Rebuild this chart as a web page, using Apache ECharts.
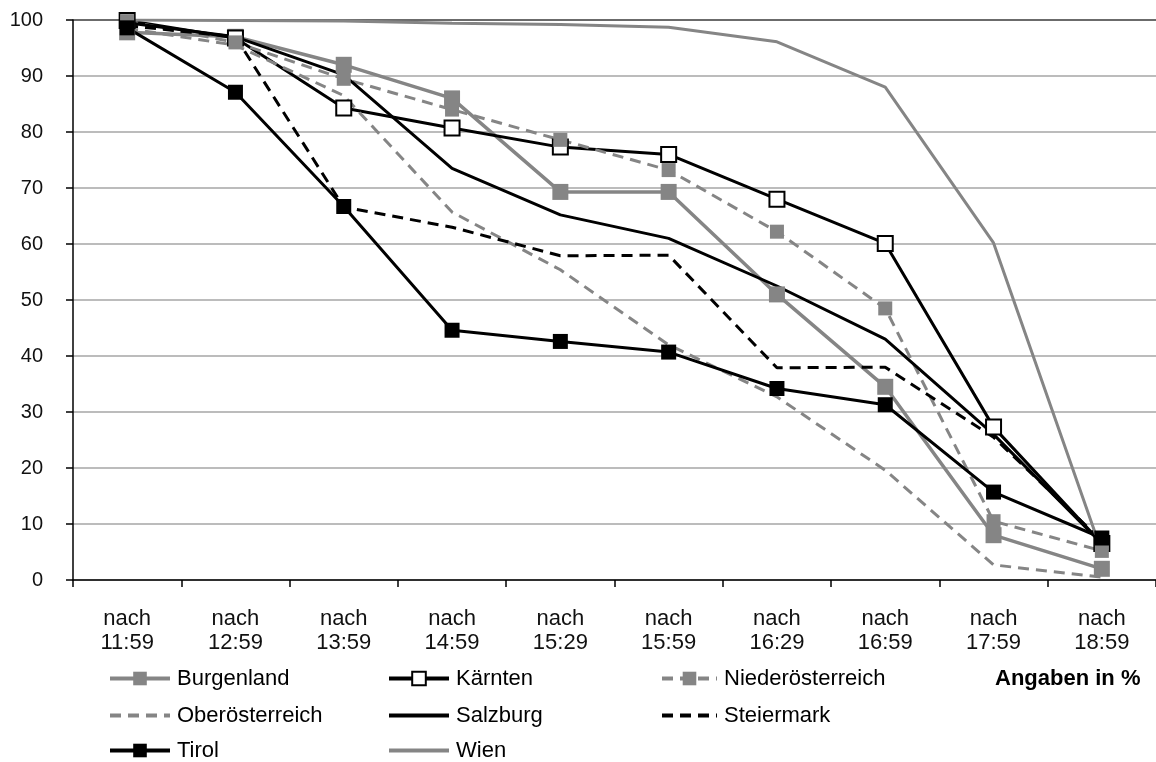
<!DOCTYPE html>
<html>
<head>
<meta charset="utf-8">
<script src="https://cdn.jsdelivr.net/npm/echarts@6/dist/echarts.min.js"></script>
<style>html,body{margin:0;padding:0;background:#fff}#c{width:1156px;height:762px}</style>
</head>
<body>
<div id="c"></div>
<script>
const categories = ['nach\n11:59','nach\n12:59','nach\n13:59','nach\n14:59','nach\n15:29','nach\n15:59','nach\n16:29','nach\n16:59','nach\n17:59','nach\n18:59'];
const burgenland      = [97.8, 97, 92, 86, 69.3, 69.3, 51, 34.5, 8, 2];
const kaernten        = [99.9, 96.8, 84.3, 80.7, 77.3, 76, 68, 60.1, 27.3, 6.5];
const niederoesterreich = [99.8, 96, 89.5, 84, 78.6, 73.2, 62.2, 48.5, 10.5, 5.2];
const oberoesterreich = [98.5, 95.5, 86.5, 65.7, 55.4, 42, 32.7, 19.6, 2.7, 0.5];
const salzburg        = [99.5, 97, 90.2, 73.5, 65.2, 61, 52.5, 43, 26, 6.5];
const steiermark      = [99, 97, 66.6, 63, 57.9, 58, 37.9, 38, 25.5, 7];
const tirol           = [98.6, 87.1, 66.7, 44.6, 42.6, 40.7, 34.2, 31.3, 15.7, 7.5];
const wien            = [100, 99.9, 99.8, 99.4, 99.2, 98.7, 96.1, 88, 60.2, 5];
const yTicks = [0, 10, 20, 30, 40, 50, 60, 70, 80, 90, 100];

const GRAY = '#858585';
const FONT = '"Liberation Sans", Arial, sans-serif';

function line(name, data, color, opts) {
  return Object.assign({
    name: name, type: 'line', data: data,
    lineStyle: { color: color, width: 3, type: 'solid' },
    itemStyle: { color: color },
    symbol: 'none', symbolSize: 15,
    animation: false
  }, opts || {});
}

const series = [
  line('Burgenland', burgenland, GRAY, { symbol: 'rect', symbolSize: 16, lineStyle: { color: GRAY, width: 3.5 } }),
  line('Kärnten', kaernten, '#000', { symbol: 'rect', symbolSize: 15, itemStyle: { color: '#fff', borderColor: '#000', borderWidth: 2 } }),
  line('Niederösterreich', niederoesterreich, GRAY, { symbol: 'rect', symbolSize: 14, lineStyle: { color: GRAY, width: 3, type: [11, 7] } }),
  line('Oberösterreich', oberoesterreich, GRAY, { lineStyle: { color: GRAY, width: 3, type: [11, 7] } }),
  line('Salzburg', salzburg, '#000'),
  line('Steiermark', steiermark, '#000', { lineStyle: { color: '#000', width: 3, type: [11, 7] } }),
  line('Tirol', tirol, '#000', { symbol: 'rect', symbolSize: 15 }),
  line('Wien', wien, GRAY, { lineStyle: { color: GRAY, width: 3 } })
];

const splitColors = yTicks.map((v, i) => i === yTicks.length - 1 ? '#3a3a3a' : '#a6a6a6');

const noMarkNames = ['Oberösterreich', 'Salzburg', 'Steiermark', 'Wien'];
// [name, left, top, itemWidth]
const legendSlots = [
  ['Burgenland', 108, 667.5, 60], ['Kärnten', 387, 667.5, 60], ['Niederösterreich', 660, 667.5, 55],
  ['Oberösterreich', 108, 704.5, 60], ['Salzburg', 387, 704.5, 60], ['Steiermark', 660, 704.5, 55],
  ['Tirol', 108, 739.5, 60], ['Wien', 387, 739.5, 60]
];
const legends = legendSlots.map(s => {
  const item = { name: s[0] };
  if (noMarkNames.indexOf(s[0]) >= 0) item.itemStyle = { color: 'transparent', borderColor: 'transparent', borderWidth: 0 };
  return {
    orient: 'horizontal', left: s[1], top: s[2], padding: 0,
    itemWidth: s[3], itemHeight: 17,
    textStyle: { fontFamily: FONT, fontSize: 22, color: '#000', padding: [0, 0, 0, 2] },
    lineStyle: { width: 4 },
    data: [item]
  };
});

const chart = echarts.init(document.getElementById('c'), null, { renderer: 'canvas' });
chart.setOption({
  animation: false,
  backgroundColor: '#fff',
  grid: { left: 73, right: 0, top: 20, bottom: 182, outerBoundsMode: 'none', containLabel: false },
  xAxis: {
    type: 'category', data: categories, boundaryGap: true,
    axisLine: { lineStyle: { color: '#000', width: 1.5 } },
    axisTick: { show: true, length: 7, lineStyle: { color: '#000', width: 1.5 } },
    axisLabel: { fontFamily: FONT, fontSize: 22, color: '#111', margin: 27, lineHeight: 24, interval: 0 },
    splitLine: { show: false }
  },
  yAxis: {
    type: 'value', min: 0, max: 100, interval: 10,
    axisLine: { show: true, lineStyle: { color: '#000', width: 1.5 } },
    axisTick: { show: true, length: 7, lineStyle: { color: '#000', width: 1.5 } },
    axisLabel: { fontFamily: FONT, fontSize: 20, color: '#111', margin: 30 },
    splitLine: { show: true, lineStyle: { color: splitColors, width: 1.5 } }
  },
  legend: legends,
  graphic: [{
    type: 'text', left: 995, top: 668,
    style: { text: 'Angaben in %', font: 'bold 22px "Liberation Sans", Arial, sans-serif', fill: '#000' }
  }],
  series: series
});
</script>
</body>
</html>
